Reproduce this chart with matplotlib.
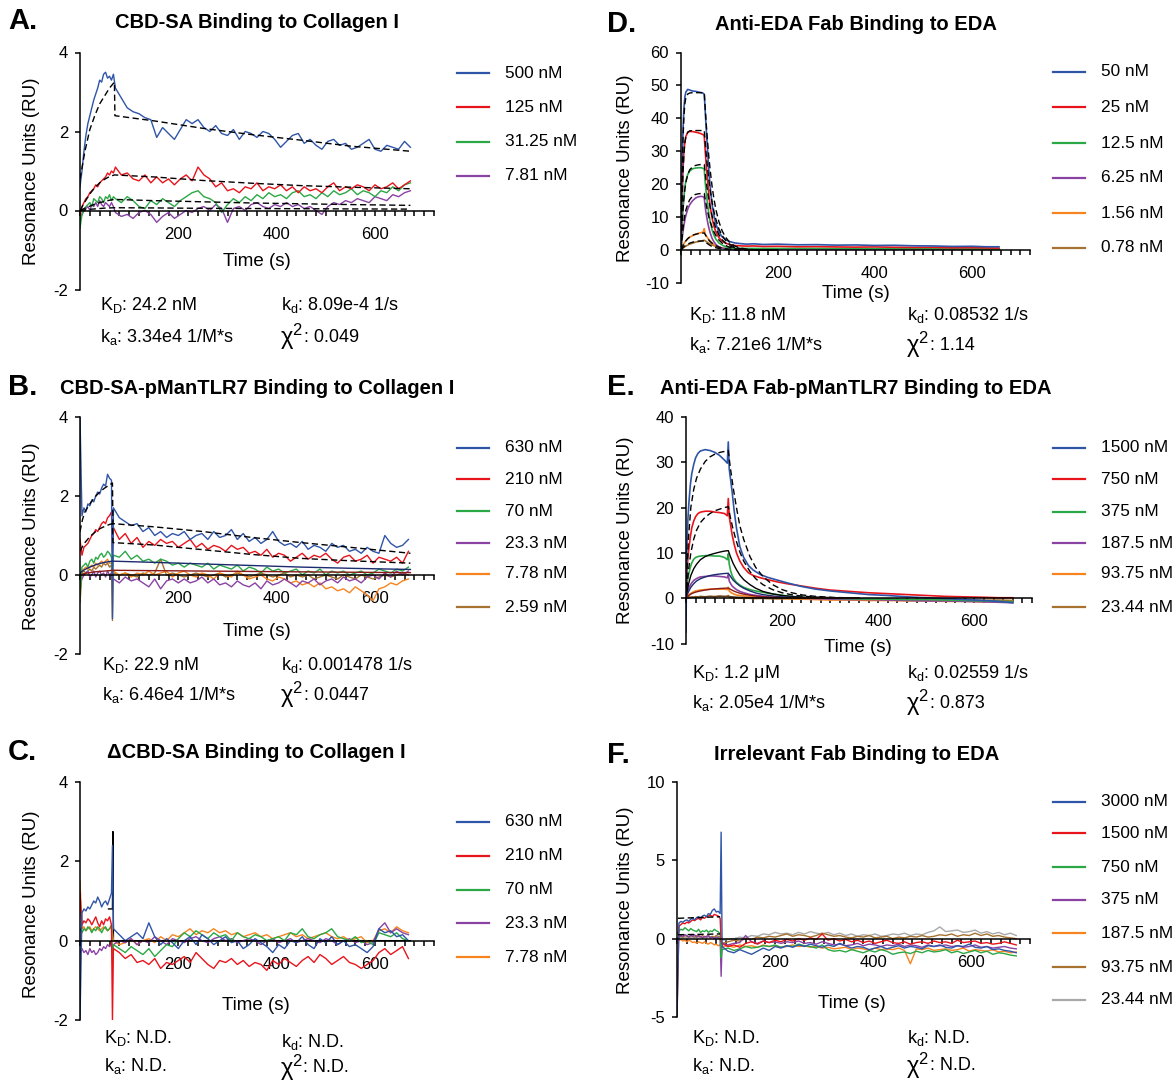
import matplotlib
matplotlib.use("Agg")
import matplotlib.pyplot as plt
import numpy as np

plt.rcParams['font.family'] = ['Liberation Sans', 'DejaVu Sans']
plt.rcParams['mathtext.fontset'] = 'custom'
plt.rcParams['mathtext.rm'] = 'Liberation Sans'
plt.rcParams['mathtext.it'] = 'Liberation Sans:italic'
plt.rcParams['mathtext.bf'] = 'Liberation Sans:bold'
plt.rcParams['axes.unicode_minus'] = False

BLUE = '#2f55a8'
RED = '#e8141c'
GREEN = '#2aa845'
PURPLE = '#8a43a3'
ORANGE = '#f7841f'
BROWN = '#a5722f'
GREY = '#a9a9a9'

# ---------------- panel A: CBD-SA on collagen I ----------------
# association sampled every 4 s from 0, dissociation every 12 s from 72 s
a_labels = ['500 nM', '125 nM', '31.25 nM', '7.81 nM']
a_500_on = [0.6, 1.0, 1.5, 1.9, 2.2, 2.4, 2.6, 2.8, 2.95, 3.1, 3.3, 3.25, 3.45, 3.5, 3.35, 3.4, 3.3, 3.45]
a_500_off = [3.1, 2.85, 2.6, 2.5, 2.45, 2.35, 2.3, 1.85, 2.1, 1.95,
             1.8, 2.05, 2.3, 2.2, 2.3, 2.1, 2.0, 2.15, 1.95, 1.9,
             2.05, 1.8, 2.0, 1.95, 1.85, 2.0, 1.95, 1.8, 1.6, 1.75,
             1.9, 1.95, 1.7, 1.8, 1.65, 1.55, 1.75, 1.8, 1.65, 1.7,
             1.55, 1.6, 1.7, 1.8, 1.55, 1.5, 1.65, 1.6, 1.55, 1.75,
             1.6]
a_125_on = [-0.15, 0.1, 0.2, 0.3, 0.35, 0.45, 0.5, 0.55, 0.65, 0.6, 0.7, 0.75, 0.8, 0.85, 0.95, 0.9, 1.0, 0.95]
a_125_off = [1.1, 0.9, 0.95, 0.8, 0.75, 0.9, 0.7, 0.85, 0.7, 0.8,
             0.65, 0.8, 0.9, 0.75, 1.1, 0.9, 0.8, 0.6, 0.7, 0.5,
             0.55, 0.45, 0.6, 0.55, 0.7, 0.5, 0.6, 0.55, 0.65, 0.5,
             0.6, 0.45, 0.6, 0.5, 0.55, 0.45, 0.6, 0.7, 0.5, 0.6,
             0.55, 0.65, 0.6, 0.5, 0.65, 0.55, 0.6, 0.7, 0.55, 0.65,
             0.75]
a_31_on = [-0.45, -0.1, 0.0, 0.1, 0.15, 0.2, 0.1, 0.3, 0.25, 0.2, 0.35, 0.3, 0.2, 0.35, 0.3, 0.4, 0.25, 0.35]
a_31_off = [0.3, 0.2, 0.35, 0.25, 0.1, 0.05, 0.25, 0.15, 0.3, 0.2,
            0.1, 0.25, 0.35, 0.45, 0.5, 0.35, 0.3, 0.2, -0.05, 0.15,
            0.3, 0.2, 0.35, 0.25, 0.4, 0.3, 0.45, 0.35, 0.4, 0.3,
            0.45, 0.5, 0.35, 0.4, 0.3, 0.45, 0.35, 0.5, 0.4, 0.45,
            0.55, 0.4, 0.5, 0.45, 0.35, 0.5, 0.45, 0.6, 0.5, 0.65,
            0.7]
a_7_on = [-0.25, -0.1, 0.0, 0.05, 0.1, 0.0, 0.15, 0.1, 0.2, 0.1, 0.25, 0.15, 0.1, 0.2, 0.15, 0.1, 0.2, 0.1]
a_7_off = [-0.05, -0.15, -0.1, -0.2, -0.05, 0.0, -0.1, -0.3, -0.15, -0.05,
           -0.2, -0.1, 0.0, -0.05, 0.05, 0.1, 0.0, 0.15, 0.05, -0.3,
           0.05, 0.1, 0.0, 0.15, 0.2, 0.1, 0.05, 0.15, 0.1, 0.2,
           0.1, 0.15, 0.05, 0.1, 0.0, -0.1, 0.1, 0.2, 0.15, 0.25,
           0.2, 0.3, 0.25, 0.2, 0.35, 0.3, 0.25, 0.4, 0.35, 0.45,
           0.5]
a_fit_t = [0, 10, 20, 30, 40, 50, 60, 70, 71, 150, 250, 350, 450, 550, 672]
a_fit_500 = [0.8, 1.5, 2.05, 2.4, 2.7, 2.9, 3.1, 3.25, 2.4, 2.27, 2.08, 1.92, 1.78, 1.63, 1.5]
a_fit_125 = [0.0, 0.22, 0.42, 0.58, 0.7, 0.79, 0.86, 0.9, 0.9, 0.85, 0.76, 0.69, 0.63, 0.59, 0.55]
a_fit_31 = [0.0, 0.06, 0.11, 0.16, 0.2, 0.23, 0.26, 0.28, 0.28, 0.25, 0.22, 0.19, 0.17, 0.15, 0.13]
a_fit_7 = [0.0, 0.015, 0.03, 0.04, 0.05, 0.06, 0.065, 0.07, 0.07, 0.065, 0.055, 0.05, 0.045, 0.04, 0.035]

# ---------------- panel B: CBD-SA-pManTLR7 on collagen I ----------------
# association every 4 s from 0, one point at 66 s, dissociation every 12 s from 68 s
b_labels = ['630 nM', '210 nM', '70 nM', '23.3 nM', '7.78 nM', '2.59 nM']
b_630_on = [4.0, 1.5, 1.7, 1.6, 1.8, 1.75, 1.9, 1.85, 2.0, 2.1, 2.05, 2.2, 2.3, 2.25, 2.55, 2.45, 2.4]
b_630_end = -1.1
b_630_off = [1.7, 1.45, 1.35, 1.25, 1.3, 1.1, 1.2, 1.0, 1.1, 0.95,
             1.05, 1.0, 1.1, 0.9, 1.0, 1.05, 0.9, 1.1, 0.95, 1.0,
             1.15, 0.9, 1.05, 0.85, 0.95, 0.8, 0.9, 1.1, 0.85, 0.75,
             0.8, 0.7, 0.85, 0.65, 0.75, 0.7, 0.6, 0.8, 0.7, 0.75,
             0.6, 0.65, 0.55, 0.7, 0.6, 0.55, 1.0, 0.8, 0.7, 0.75,
             0.9]
b_210_on = [0.9, 0.5, 0.7, 0.75, 0.8, 0.9, 1.0, 1.05, 1.15, 1.1, 1.2, 1.3, 1.35, 1.3, 1.45, 1.5, 1.6]
b_210_end = 0.6
b_210_off = [1.2, 0.9, 1.05, 0.8, 0.95, 0.7, 0.85, 0.75, 0.9, 0.8,
             0.85, 0.7, 0.8, 0.9, 0.7, 0.8, 0.65, 0.75, 0.7, 0.6,
             0.75, 0.65, 0.7, 0.55, 0.6, 0.5, 0.65, 0.45, 0.55, 0.5,
             0.35, 0.45, 0.55, 0.4, 0.5, 0.45, 0.55, 0.4, 0.3, 0.45,
             0.5, 0.35, 0.4, 0.5, 0.3, 0.45, 0.4, 0.35, 0.45, 0.3,
             0.6]
b_70_on = [-0.5, 0.2, 0.25, 0.3, 0.2, 0.35, 0.4, 0.3, 0.45, 0.4, 0.5, 0.55, 0.45, 0.5, 0.6, 0.55, 0.45]
b_70_end = 0.0
b_70_off = [0.5, 0.45, 0.6, 0.4, 0.5, 0.35, 0.4, 0.3, 0.4, 0.35,
            0.25, 0.3, 0.2, 0.3, 0.25, 0.2, 0.3, 0.15, 0.25, 0.2,
            0.15, 0.25, 0.1, 0.2, 0.15, 0.05, 0.2, 0.1, 0.15, 0.05,
            0.1, 0.15, 0.0, 0.1, 0.05, 0.15, 0.0, 0.1, 0.05, 0.1,
            0.0, 0.05, 0.1, 0.0, 0.05, 0.15, 0.1, 0.05, 0.15, 0.1,
            0.2]
b_23_on = [-0.2, -0.1, 0.0, 0.05, 0.1, -0.05, 0.0, 0.1, -0.05, 0.05, 0.1, 0.0, 0.05, -0.05, 0.1, 0.0, 0.05]
b_23_end = -0.1
b_23_off = [-0.1, -0.2, -0.05, -0.15, -0.1, -0.2, -0.3, -0.1, -0.35, -0.15,
            -0.1, -0.2, -0.1, -0.2, -0.15, -0.05, -0.2, -0.1, -0.25, -0.2,
            -0.3, -0.15, -0.25, -0.3, -0.2, -0.35, -0.15, -0.25, -0.2, -0.1,
            -0.2, -0.3, -0.15, -0.2, -0.1, -0.25, -0.15, -0.1, -0.2, -0.05,
            -0.15, -0.1, -0.2, -0.05, 0.0, -0.1, 0.05, -0.05, 0.1, 0.0,
            0.1]
b_7_on = [0.0, 0.1, 0.15, 0.2, 0.15, 0.2, 0.25, 0.2, 0.3, 0.25, 0.3, 0.35, 0.3, 0.35, 0.4, 0.3, 0.3]
b_7_end = 0.0
b_7_off = [0.1, 0.0, 0.05, -0.05, 0.05, 0.0, 0.1, 0.0, 0.05, 0.1,
           -0.05, 0.05, 0.1, 0.0, -0.05, 0.05, 0.0, -0.1, 0.05, 0.0,
           -0.05, 0.1, 0.0, -0.1, -0.05, 0.0, -0.1, -0.15, -0.05, -0.1,
           -0.2, -0.15, -0.25, -0.2, -0.3, -0.2, -0.35, -0.3, -0.4, -0.35,
           -0.45, -0.3, -0.4, -0.5, -0.65, -0.35, -0.3, -0.2, -0.25, -0.15,
           -0.1]
b_2_on = [-0.7, 0.05, 0.1, 0.05, 0.1, 0.15, 0.1, 0.2, 0.15, 0.2, 0.25, 0.2, 0.3, 0.25, 0.3, 0.2, 0.25]
b_2_end = -1.15
b_2_off = [0.05, 0.0, 0.05, 0.0, -0.05, 0.05, 0.0, 0.05, 0.4, 0.0,
           0.05, 0.0, -0.05, 0.0, 0.05, 0.0, -0.05, 0.0, 0.05, -0.05,
           0.0, 0.05, 0.0, -0.05, 0.0, 0.05, 0.0, -0.05, 0.0, 0.05,
           -0.05, 0.0, -0.05, 0.0, -0.1, -0.05, 0.0, -0.05, -0.1, 0.0,
           -0.05, -0.1, 0.0, -0.05, -0.1, -0.05, 0.0, -0.05, 0.0, 0.05,
           0.0]
b_fit_t = [0, 5, 10, 20, 30, 40, 50, 60, 66, 67, 150, 250, 350, 450, 550, 672]
b_fit_630 = [1.1, 1.4, 1.6, 1.8, 1.97, 2.1, 2.2, 2.28, 2.33, 1.3, 1.22, 1.1, 0.95, 0.82, 0.7, 0.55]
b_fit_210 = [0.6, 0.72, 0.82, 0.97, 1.08, 1.17, 1.23, 1.28, 1.3, 0.82, 0.76, 0.64, 0.52, 0.42, 0.36, 0.3]
b_fit_70 = [0.05, 0.1, 0.14, 0.2, 0.25, 0.29, 0.32, 0.34, 0.35, 0.35, 0.32, 0.28, 0.24, 0.2, 0.17, 0.14]
b_fit_23 = [0.0, 0.02, 0.04, 0.06, 0.08, 0.09, 0.1, 0.11, 0.12, 0.12, 0.11, 0.1, 0.09, 0.08, 0.07, 0.06]

# ---------------- panel C: dCBD-SA on collagen I ----------------
c_labels = ['630 nM', '210 nM', '70 nM', '23.3 nM', '7.78 nM']
c_630_on = [-2.0, 0.7, 0.8, 0.75, 0.85, 0.8, 0.9, 1.0, 0.95, 1.1, 1.0, 0.85, 0.95, 1.0, 0.9, 1.05, 1.2]
c_630_end = 2.4
c_630_off = [0.3, 0.15, 0.0, 0.1, 0.2, 0.05, 0.45, 0.1, -0.1, 0.05,
             -0.05, -0.2, 0.0, 0.1, -0.1, 0.15, 0.05, -0.1, 0.0, 0.1,
             -0.05, 0.0, -0.2, -0.1, 0.05, -0.05, -0.15, -0.3, -0.1, -0.2,
             0.0, -0.05, 0.1, -0.1, -0.2, 0.05, -0.05, 0.1, -0.1, 0.0,
             -0.15, -0.1, -0.2, -0.3, -0.15, 0.3, 0.2, 0.25, 0.1, 0.15,
             0.0]
c_210_on = [1.2, 0.4, 0.5, 0.45, 0.55, 0.5, 0.4, 0.5, 0.6, 0.45, 0.35, 0.5, 0.4, 0.55, 0.5, 0.6, 0.4]
c_210_end = -2.0
c_210_off = [-0.2, -0.3, -0.45, -0.35, -0.55, -0.5, -0.6, -0.45, -0.7, -0.55,
             -0.6, -0.5, -0.4, -0.55, -0.3, -0.45, -0.6, -0.7, -0.5, -0.55,
             -0.45, -0.6, -0.5, -0.65, -0.55, -0.6, -0.75, -0.5, -0.6, -0.45,
             -0.55, -0.65, -0.5, -0.4, -0.55, -0.35, -0.45, -0.6, -0.5, -0.4,
             -0.55, -0.6, -0.7, -0.6, -0.5, -0.3, -0.2, -0.35, -0.25, -0.15,
             -0.45]
c_70_on = [0.3, 0.2, 0.3, 0.25, 0.35, 0.3, 0.2, 0.3, 0.25, 0.35, 0.3, 0.2, 0.3, 0.35, 0.25, 0.3, 0.4]
c_70_end = -0.5
c_70_off = [-0.1, -0.2, -0.3, -0.15, -0.25, -0.35, -0.2, -0.4, -0.25, -0.1,
            -0.15, 0.05, 0.2, 0.1, 0.25, 0.15, 0.05, 0.2, 0.1, 0.15,
            0.0, 0.2, 0.1, 0.05, 0.15, 0.1, 0.0, 0.05, 0.1, 0.0,
            0.2, 0.15, 0.3, 0.1, 0.05, 0.15, 0.2, 0.3, 0.1, 0.05,
            0.0, 0.1, -0.05, 0.0, -0.1, 0.2, 0.15, 0.1, 0.2, 0.05,
            0.0]
c_23_on = [-0.3, -0.2, -0.3, -0.25, -0.35, -0.2, -0.3, -0.25, -0.35, -0.3, -0.2, -0.25, -0.15, -0.2, -0.1, -0.15, -0.1]
c_23_end = -0.2
c_23_off = [-0.1, 0.0, -0.05, 0.05, -0.1, 0.0, -0.05, 0.1, 0.0, -0.1,
            0.05, 0.0, -0.05, 0.05, 0.1, 0.0, -0.05, 0.05, 0.1, 0.0,
            0.05, -0.05, 0.0, 0.05, 0.0, -0.1, 0.0, 0.05, -0.05, 0.0,
            0.05, -0.05, 0.0, 0.05, 0.0, -0.05, 0.05, 0.0, -0.1, 0.0,
            0.05, -0.05, 0.0, -0.1, -0.05, 0.3, 0.45, 0.2, 0.3, 0.2,
            0.15]
c_7_on = [1.5, 0.3, 0.35, 0.25, 0.3, 0.35, 0.25, 0.3, 0.35, 0.3, 0.25, 0.3, 0.35, 0.3, 0.25, 0.3, 0.35]
c_7_end = 0.2
c_7_off = [0.0, -0.1, -0.05, 0.05, -0.1, 0.0, 0.05, -0.05, 0.1, 0.0,
           0.15, 0.1, 0.2, 0.3, 0.15, 0.25, 0.2, 0.3, 0.2, 0.25,
           0.15, 0.2, 0.1, 0.15, 0.2, 0.1, 0.15, 0.05, 0.1, 0.15,
           0.2, 0.1, 0.15, 0.05, 0.1, 0.15, 0.2, 0.1, 0.05, 0.1,
           0.0, 0.05, 0.1, -0.05, 0.0, 0.25, 0.3, 0.2, 0.35, 0.25,
           0.2]
c_fit_t = [58, 66, 67, 68, 672]
c_fit = [0.8, 0.8, 2.75, 0.0, 0.0]

# ---------------- panel D: anti-EDA Fab on EDA ----------------
d_labels = ['50 nM', '25 nM', '12.5 nM', '6.25 nM', '1.56 nM', '0.78 nM']
d_t = [0, 2, 4, 6, 8, 10,
       14, 18, 24, 30, 36, 42,
       46, 48, 50, 52, 54, 57,
       60, 64, 68, 72, 78, 85,
       92, 100, 110, 120, 135, 150,
       170, 200, 240, 280, 320, 360,
       400, 440, 480, 520, 560, 600,
       630, 656]
d_50 = [0, 22, 36, 43, 46.5, 48,
        48.8, 48.6, 48.3, 48.2, 48.0, 47.8,
        47.6, 47.3, 42, 37, 32, 25,
        19.5, 14, 10.5, 8, 5.5, 4,
        3.2, 2.6, 2.2, 2.0, 1.8, 1.9,
        1.7, 1.8, 1.6, 1.65, 1.5, 1.55,
        1.4, 1.45, 1.3, 1.25, 1.1, 1.15,
        1.0, 1.0]
d_25 = [0, 14, 24, 30, 33, 34.5,
        35.8, 36, 36, 35.8, 35.6, 35.3,
        35.0, 34.5, 30, 26, 22.5, 17.5,
        13.5, 9.8, 7.2, 5.5, 3.8, 2.7,
        2.1, 1.7, 1.4, 1.3, 1.2, 1.25,
        1.1, 1.15, 1.0, 1.05, 0.95, 0.9,
        0.95, 0.85, 0.8, 0.85, 0.7, 0.75,
        0.65, 0.6]
d_12 = [-1.5, 7, 12, 16, 19, 21,
        23, 24, 24.7, 24.9, 25, 25,
        24.8, 24.5, 20.5, 17.5, 15, 11.5,
        8.8, 6.2, 4.5, 3.3, 2.2, 1.5,
        1.0, 0.7, 0.5, 0.5, 0.5, 0.5,
        0.5, 0.5, 0.5, 0.5, 0.45, 0.45,
        0.4, 0.4, 0.4, 0.35, 0.3, 0.3,
        0.3, 0.3]
d_6 = [0, 3, 5.5, 7.5, 9.2, 10.5,
       12.5, 13.8, 15, 15.8, 16.2, 16.3,
       16.2, 15.8, 13, 11, 9.2, 7,
       5.3, 3.6, 2.5, 1.7, 1.0, 0.6,
       0.4, 0.3, 0.2, 0.2, 0.2, 0.2,
       0.2, 0.2, 0.2, 0.2, 0.2, 0.2,
       0.2, 0.2, 0.2, 0.2, 0.2, 0.2,
       0.2, 0.2]
d_1 = [0, 0.8, 1.5, 2.0, 2.4, 2.8,
       3.4, 3.9, 4.4, 4.8, 5.1, 5.3,
       5.5, 6.5, 4.8, 4.3, 3.9, 3.3,
       2.8, 2.2, 1.7, 1.3, 0.9, 0.6,
       0.4, 0.3, 0.2, 0.2, 0.2, 0.25,
       0.25, 0.3, 0.3, 0.3, 0.3, 0.3,
       0.3, 0.3, 0.3, 0.3, 0.3, 0.3,
       0.3, 0.3]
d_0 = [0, 0.3, 0.6, 0.8, 1.0, 1.2,
       1.5, 1.8, 2.1, 2.4, 2.6, 2.8,
       2.9, 3.0, 2.8, 2.6, 2.4, 2.1,
       1.9, 1.6, 1.35, 1.1, 0.8, 0.55,
       0.4, 0.3, 0.3, 0.3, 0.3, 0.3,
       0.3, 0.3, 0.3, 0.3, 0.3, 0.3,
       0.3, 0.3, 0.3, 0.35, 0.35, 0.4,
       0.4, 0.4]
d_fit_t = [0, 2, 4, 6, 8, 10, 14, 18, 24, 30, 36, 42, 48, 50, 52, 54, 57, 60,
           64, 68, 72, 78, 85, 92, 100, 110, 120, 135, 150, 170, 200]
d_fit_50 = [0, 19, 33, 40.5, 44.5, 46.3, 47.4, 47.7, 47.8, 47.8, 47.8, 47.8, 47.8, 43, 38.5, 34.5, 29, 24.5,
            19.5, 15.5, 12.3, 8.7, 5.8, 3.9, 2.4, 1.3, 0.7, 0.3, 0.12, 0.05, 0.0]
d_fit_25 = [0, 13, 23, 29, 32.5, 34.3, 35.8, 36.2, 36.3, 36.3, 36.3, 36.3, 36.3, 32.5, 29, 26, 21.8, 18.3,
            14.7, 11.7, 9.3, 6.5, 4.4, 2.9, 1.8, 1.0, 0.5, 0.2, 0.1, 0.03, 0.0]
d_fit_12 = [0, 7, 12, 15.8, 18.5, 20.5, 23, 24.4, 25.3, 25.7, 25.9, 26.0, 26.0, 23.3, 20.8, 18.6, 15.6, 13.1,
            10.5, 8.4, 6.6, 4.7, 3.1, 2.1, 1.3, 0.7, 0.4, 0.15, 0.06, 0.02, 0.0]
d_fit_6 = [0, 3.5, 6.5, 8.8, 10.7, 12.1, 14.0, 15.3, 16.4, 16.9, 17.1, 17.2, 17.2, 15.4, 13.8, 12.3, 10.3, 8.7,
           7.0, 5.5, 4.4, 3.1, 2.1, 1.4, 0.85, 0.45, 0.25, 0.1, 0.04, 0.01, 0.0]
d_fit_1 = [0, 0.7, 1.3, 1.9, 2.4, 2.8, 3.5, 4.0, 4.5, 4.8, 5.0, 5.1, 5.2, 4.7, 4.2, 3.7, 3.1, 2.6,
           2.1, 1.7, 1.3, 0.9, 0.6, 0.4, 0.25, 0.14, 0.07, 0.03, 0.01, 0.0, 0.0]
d_fit_0 = [0, 0.35, 0.7, 1.0, 1.25, 1.5, 1.85, 2.1, 2.4, 2.6, 2.7, 2.75, 2.8, 2.5, 2.25, 2.0, 1.7, 1.4,
           1.1, 0.9, 0.7, 0.5, 0.33, 0.22, 0.13, 0.07, 0.04, 0.015, 0.005, 0.0, 0.0]

# ---------------- panel E: anti-EDA Fab-pManTLR7 on EDA ----------------
e_labels = ['1500 nM', '750 nM', '375 nM', '187.5 nM', '93.75 nM', '23.44 nM']
e_t = [0, 1, 2, 4, 6, 9,
       12, 16, 20, 25, 30, 40,
       50, 60, 70, 80, 86, 88,
       90, 93, 96, 100, 105, 112,
       120, 130, 140, 155, 170, 190,
       210, 240, 270, 300, 340, 380,
       420, 460, 500, 540, 580, 620,
       650, 680]
e_1500 = [-7.5, 6, 12, 17.5, 21, 25,
          27.5, 29.5, 31, 32, 32.5, 32.8,
          32.6, 32.2, 31.5, 30.5, 29.8, 34.5,
          28.5, 26, 23.5, 19.5, 15.5, 11.4,
          9, 7.2, 6.2, 5.2, 4.6, 4.0,
          3.4, 2.6, 2.0, 1.6, 1.2, 0.8,
          0.6, 0.3, 0.1, -0.1, -0.3, -0.5,
          -0.7, -1.0]
e_750 = [-2, 3, 6, 9, 11, 13.5,
         15.5, 17, 18, 18.7, 19, 19.2,
         19.2, 19.0, 18.9, 18.7, 18.2, 22,
         18, 16, 14, 12, 10, 8.2,
         6.8, 5.6, 5.0, 4.5, 4.1, 3.6,
         3.2, 2.7, 2.2, 1.8, 1.5, 1.2,
         1.0, 0.8, 0.6, 0.4, 0.3, 0.2,
         0.1, 0.1]
e_375 = [0, 1.5, 3, 4.5, 5.5, 6.8,
         7.8, 8.6, 9.0, 9.2, 9.3, 9.4,
         9.4, 9.3, 9.3, 9.0, 8.5, 9.8,
         7.5, 6.0, 5.0, 4.2, 3.5, 2.9,
         2.4, 2.0, 1.7, 1.4, 1.1, 0.8,
         0.5, 0.2, 0.1, 0.0, -0.1, -0.2,
         -0.2, -0.3, -0.3, -0.4, -0.5, -0.6,
         -0.7, -0.8]
e_187 = [0, 0.6, 1.2, 1.8, 2.3, 2.9,
         3.4, 3.9, 4.2, 4.5, 4.7, 4.8,
         4.9, 4.9, 4.8, 4.7, 4.5, 5.2,
         3.8, 3.2, 2.7, 2.3, 1.9, 1.5,
         1.2, 0.9, 0.7, 0.5, 0.3, 0.2,
         0.1, 0.0, -0.1, -0.2, -0.3, -0.3,
         -0.4, -0.5, -0.6, -0.6, -0.7, -0.8,
         -0.9, -1.0]
e_93 = [0, 0.2, 0.4, 0.6, 0.8, 1.0,
        1.2, 1.4, 1.6, 1.7, 1.8, 1.9,
        2.0, 2.0, 2.0, 2.0, 1.9, 2.4,
        1.6, 1.3, 1.1, 0.9, 0.7, 0.6,
        0.5, 0.4, 0.3, 0.2, 0.1, 0.0,
        -0.1, -0.2, -0.3, -0.4, -0.4, -0.5,
        -0.5, -0.6, -0.6, -0.7, -0.7, -0.8,
        -0.8, -0.9]
e_23 = [0, 0.1, 0.2, 0.1, 0.3, 0.2,
        0.3, 0.2, 0.35, 0.25, 0.4, 0.3,
        0.45, 0.3, 0.5, 0.35, 0.4, 0.6,
        0.2, 0.1, 0.1, 0.0, 0.05, 0.0,
        -0.05, 0.0, -0.1, -0.05, -0.1, -0.15,
        -0.1, -0.2, -0.15, -0.25, -0.2, -0.3,
        -0.25, -0.35, -0.3, -0.4, -0.35, -0.45,
        -0.4, -0.5]
e_fit_t = [0, 2, 5, 10, 16, 22, 30, 40, 50, 60, 71, 80, 88, 92,
           98, 105, 112, 120, 133, 145, 160, 180, 200, 220, 243, 270, 311, 360]
e_fit_1500 = [0, 6, 13, 20, 24, 26.5, 28.5, 30.2, 31.2, 31.8, 32.2, 32.4, 32.6, 29,
              24.5, 20, 16, 13, 9.2, 6.8, 4.8, 3.0, 1.9, 1.2, 0.7, 0.4, 0.15, 0.05]
e_fit_750 = [0, 2.5, 6, 10, 13, 15, 16.7, 17.9, 18.7, 19.3, 19.7, 20.0, 20.2, 18,
             15.2, 12.5, 10.2, 8.2, 5.9, 4.3, 3.0, 1.9, 1.2, 0.75, 0.45, 0.25, 0.1, 0.03]
e_fit_375 = [0, 1.3, 3, 5, 6.5, 7.5, 8.5, 9.2, 9.6, 9.9, 10.2, 10.4, 10.5, 9.3,
             7.7, 6.3, 5.1, 4.1, 3.0, 2.2, 1.5, 0.95, 0.6, 0.37, 0.22, 0.12, 0.05, 0.01]
e_fit_187 = [0, 0.6, 1.4, 2.4, 3.2, 3.8, 4.3, 4.7, 5.0, 5.2, 5.35, 5.45, 5.5, 4.9,
             4.0, 3.3, 2.7, 2.2, 1.6, 1.15, 0.8, 0.5, 0.3, 0.19, 0.11, 0.06, 0.02, 0.0]
e_fit_93 = [0, 0.2, 0.5, 0.9, 1.2, 1.4, 1.6, 1.8, 1.95, 2.05, 2.15, 2.2, 2.25, 2.0,
            1.65, 1.35, 1.1, 0.9, 0.65, 0.47, 0.32, 0.2, 0.12, 0.07, 0.04, 0.02, 0.0, 0.0]
e_fit_23 = [0, 0.03, 0.08, 0.15, 0.2, 0.25, 0.28, 0.32, 0.35, 0.37, 0.39, 0.4, 0.4, 0.36,
            0.3, 0.24, 0.2, 0.16, 0.12, 0.08, 0.06, 0.04, 0.02, 0.01, 0.0, 0.0, 0.0, 0.0]

# ---------------- panel F: irrelevant Fab on EDA ----------------
# association every 4 s from 0 to 88, one point at 90 s, dissociation every 12 s from 92 s
f_labels = ['3000 nM', '1500 nM', '750 nM', '375 nM', '187.5 nM', '93.75 nM', '23.44 nM']
f_3000_on = [-5.0, 1.0, 1.1, 1.05, 1.15, 1.2, 1.1, 1.25, 1.3, 1.2, 1.35, 1.4, 1.3, 1.45, 1.5, 1.4,
             1.6, 1.55, 1.8, 1.9, 1.7, 1.75, 1.6]
f_3000_end = 6.8
f_3000_off = [-0.5, -0.8, -0.9, -0.7, -0.85, -1.0, -0.8, -0.6, -0.75, -0.5,
              -0.6, -0.45, -0.55, -0.4, -0.5, -0.35, -0.45, -0.55, -0.4, -0.5,
              -0.3, -0.45, -0.6, -0.5, -0.55, -0.7, -0.6, -0.5, -0.65, -0.55,
              -0.45, -0.6, -0.5, -0.55, -0.65, -0.45, -0.5, -0.4, -0.55, -0.6,
              -0.45, -0.5, -0.35, -0.55, -0.6, -0.5, -0.7, -0.65, -0.75, -0.8,
              -0.9]
f_1500_on = [-5.0, 0.8, 0.9, 1.0, 0.95, 1.05, 1.0, 1.1, 1.2, 1.15, 1.25, 1.3, 1.2, 1.35, 1.3, 1.4,
             1.45, 1.5, 1.4, 1.55, 1.5, 1.45, 1.3]
f_1500_end = -0.2
f_1500_off = [-0.3, -0.5, -0.4, -0.55, -0.3, -0.2, -0.35, -0.15, -0.25, -0.1,
              -0.2, -0.05, -0.15, 0.0, -0.1, 0.05, -0.05, 0.3, -0.1, 0.0,
              -0.15, -0.05, -0.2, -0.1, -0.25, -0.15, -0.3, -0.2, -0.1, -0.25,
              -0.3, -0.2, -0.35, -0.25, -0.2, -0.3, -0.15, -0.25, -0.2, -0.3,
              -0.1, -0.25, -0.2, -0.15, -0.3, -0.25, -0.35, -0.3, -0.2, -0.3,
              -0.4]
f_750_on = [0.3, 0.5, 0.6, 0.55, 0.7, 0.6, 0.5, 0.65, 0.55, 0.5, 0.45, 0.6, 0.4, 0.5, 0.45, 0.55,
            0.4, 0.5, 0.45, 0.6, 0.5, 0.45, 0.3]
f_750_end = -1.2
f_750_off = [-0.7, -0.6, -0.75, -0.65, -0.5, -0.6, -0.55, -0.45, -0.5, -0.4,
             -0.55, -0.45, -0.5, -0.35, -0.45, -0.5, -0.6, -0.4, -0.7, -0.8,
             -0.75, -0.85, -0.7, -0.8, -0.9, -0.75, -0.85, -0.7, -0.8, -1.0,
             -0.9, -0.85, -0.95, -0.8, -0.9, -0.75, -0.85, -0.8, -0.7, -0.9,
             -0.8, -0.95, -0.85, -0.75, -0.9, -0.8, -1.0, -0.9, -0.95, -1.05,
             -1.1]
f_375_on = [-0.2, 0.1, 0.2, 0.15, 0.25, 0.2, 0.1, 0.2, 0.15, 0.25, 0.1, 0.2, 0.15, 0.05, 0.15, 0.1,
            0.2, 0.05, 0.1, 0.0, 0.1, 0.05, 0.0]
f_375_end = -2.4
f_375_off = [-0.3, -0.4, -0.3, -0.25, 0.2, -0.2, -0.3, -0.15, -0.25, -0.2,
             -0.3, -0.2, -0.25, -0.15, -0.3, -0.25, -0.35, -0.2, -0.3, -0.4,
             -0.35, -0.45, -0.4, -0.3, -0.45, -0.35, -0.4, -0.5, -0.4, -0.45,
             -0.35, -0.5, -0.4, -0.45, -0.55, -0.4, -0.5, -0.45, -0.4, -0.5,
             -0.45, -0.55, -0.5, -0.4, -0.55, -0.5, -0.6, -0.55, -0.5, -0.6,
             -0.65]
f_187_on = [-0.3, -0.1, -0.05, -0.15, -0.1, -0.2, -0.1, -0.15, -0.25, -0.2, -0.3, -0.2, -0.25, -0.3,
            -0.2, -0.3, -0.35, -0.25, -0.3, -0.4, -0.35, -0.45, -0.4]
f_187_end = -0.6
f_187_off = [-0.5, -0.45, -0.55, -0.4, -0.5, -0.45, -0.55, -0.4, -0.5, -0.45,
             -0.55, -0.5, -0.4, -0.5, -0.45, -0.55, -0.5, -0.6, -0.55, -0.65,
             -0.6, -0.55, -0.7, -0.6, -0.65, -0.75, -0.6, -0.7, -0.65, -0.7,
             -0.6, -0.75, -1.6, -0.65, -0.7, -0.6, -0.75, -0.7, -0.65, -0.75,
             -0.7, -0.6, -0.8, -0.7, -0.75, -0.8, -0.7, -0.85, -0.8, -0.9,
             -0.85]
f_93_on = [0.0, 0.1, 0.15, 0.1, 0.2, 0.15, 0.1, 0.2, 0.15, 0.1, 0.2, 0.15, 0.1, 0.2, 0.1, 0.15,
           0.2, 0.1, 0.15, 0.1, 0.2, 0.15, 0.1]
f_93_end = -0.3
f_93_off = [-0.3, -0.2, -0.1, -0.15, 0.0, -0.05, 0.1, 0.05, 0.15, 0.1,
            0.2, 0.3, 0.15, 0.25, 0.2, 0.1, 0.2, 0.35, 0.25, 0.15,
            0.2, 0.1, 0.05, 0.15, 0.1, 0.2, 0.05, 0.1, 0.15, 0.0,
            0.1, 0.05, 0.15, 0.1, 0.2, 0.1, 0.15, 0.25, 0.2, 0.3,
            0.15, 0.25, 0.2, 0.35, 0.2, 0.3, 0.15, 0.2, 0.1, 0.05,
            0.0]
f_23_on = [0.0, 0.05, 0.1, 0.05, 0.1, 0.05, 0.1, 0.05, 0.1, 0.05, 0.1, 0.05, 0.1, 0.05, 0.1, 0.05,
           0.1, 0.05, 0.1, 0.05, 0.1, 0.05, 0.05]
f_23_end = -0.1
f_23_off = [-0.1, -0.05, 0.0, 0.1, 0.05, 0.2, 0.15, 0.3, 0.25, 0.4,
            0.3, 0.35, 0.25, 0.4, 0.3, 0.45, 0.35, 0.3, 0.4, 0.25,
            0.35, 0.2, 0.3, 0.15, 0.25, 0.2, 0.3, 0.15, 0.2, 0.3,
            0.25, 0.35, 0.2, 0.3, 0.25, 0.4, 0.5, 0.75, 0.45, 0.5,
            0.55, 0.4, 0.45, 0.55, 0.35, 0.45, 0.3, 0.4, 0.25, 0.35,
            0.2]
f_fit_t = [2, 88]
f_fit_hi = [1.3, 1.4]
f_fit_lo = [0.25, 0.3]


def trace(on, end, off, t_end, t_off, step_on=4, step_off=12):
    t = [i * step_on for i in range(len(on))]
    v = list(on)
    if end is not None:
        t.append(t_end)
        v.append(end)
    t += [t_off + i * step_off for i in range(len(off))]
    v += list(off)
    return t, v


W, H = 1175, 1084
fig = plt.figure(figsize=(W / 100, H / 100), dpi=100)


def fx(x):
    return x / W


def fy(y):
    return 1 - y / H


def make_ax(left, right, top, bottom, ylim, yticks):
    ax = fig.add_axes([fx(left), fy(bottom), (right - left) / W, (bottom - top) / H])
    ax.patch.set_alpha(0)
    ax.set_xlim(0, 720)
    ax.set_ylim(*ylim)
    for s in ['top', 'right']:
        ax.spines[s].set_visible(False)
    ax.spines['bottom'].set_position(('data', 0))
    for s in ['left', 'bottom']:
        ax.spines[s].set_linewidth(1.1)
        ax.spines[s].set_zorder(5)
    ax.set_xticks([200, 400, 600])
    ax.set_xticks(np.arange(0, 721, 20), minor=True)
    ax.set_yticks(yticks)
    ax.tick_params(axis='both', which='both', direction='out', length=3.6, width=1.1,
                   labelsize=12)
    ax.tick_params(axis='x', pad=8)
    ax.tick_params(axis='y', pad=5)
    return ax


def plot_series(ax, t, v, color, lw=1.0, ls='-', z=2):
    n = min(len(t), len(v))
    ax.plot(t[:n], v[:n], color=color, lw=lw, ls=ls, zorder=z, solid_joinstyle='round')


def legend(x0, rows, labels, colors):
    for y, lab, c in zip(rows, labels, colors):
        fig.add_artist(plt.Line2D([fx(x0), fx(x0 + 32)], [fy(y), fy(y)], color=c, lw=1.6))
        fig.text(fx(x0 + 48), fy(y), lab, fontsize=12.4, va='center', ha='left')


def stats(xl, xr, y1, y2, kd_big, ka, kd, chi, xchi_text, y1r=None, y2r=None):
    y1r = y1 if y1r is None else y1r
    y2r = y2 if y2r is None else y2r
    fig.text(fx(xl), fy(y1), r'K$_\mathregular{D}$: ' + kd_big, fontsize=13, va='center')
    fig.text(fx(xl), fy(y2), r'k$_\mathregular{a}$: ' + ka, fontsize=13, va='center')
    fig.text(fx(xr), fy(y1r), r'k$_\mathregular{d}$: ' + kd, fontsize=13, va='center')
    fig.text(fx(xr - 1), fy(y2r), r'$\mathregular{\chi^{2}}$', fontsize=17, va='center')
    fig.text(fx(xchi_text), fy(y2r), ': ' + chi, fontsize=13, va='center')


def headers(letter, lx, ly, title, tx, ty, xlab_x, xlab_y, ylab_x, ylab_y):
    fig.text(fx(lx), fy(ly), letter, fontsize=21, fontweight='bold', va='center', ha='left')
    fig.text(fx(tx), fy(ty), title, fontsize=14.5, fontweight='bold', va='center', ha='center')
    fig.text(fx(xlab_x), fy(xlab_y), 'Time (s)', fontsize=13.5, va='center', ha='center')
    fig.text(fx(ylab_x), fy(ylab_y), 'Resonance Units (RU)', fontsize=13.5, va='center',
             ha='center', rotation=90)


dash = (0, (4.5, 2.5))

# ---------- A ----------
axA = make_ax(80, 434, 52.5, 289.5, (-2, 4), [-2, 0, 2, 4])
a_cols = [BLUE, RED, GREEN, PURPLE]
a_data = [(a_500_on, a_500_off), (a_125_on, a_125_off), (a_31_on, a_31_off), (a_7_on, a_7_off)]
for (on, off), c in reversed(list(zip(a_data, a_cols))):
    t, v = trace(on, None, off, None, 72)
    plot_series(axA, t, v, c)
for fv in [a_fit_500, a_fit_125, a_fit_31, a_fit_7]:
    plot_series(axA, a_fit_t, fv, 'black', lw=1.0, ls=dash, z=3)
headers('A.', 8, 21, 'CBD-SA Binding to Collagen I', 257, 23, 257, 262, 32, 171)
legend(457, [73, 107, 142, 176], a_labels, a_cols)
stats(100, 281, 305, 337, '24.2 nM', '3.34e4 1/M*s', '8.09e-4 1/s', '0.049', 304)

# ---------- B ----------
axB = make_ax(80, 434, 417, 654, (-2, 4), [-2, 0, 2, 4])
b_cols = [BLUE, RED, GREEN, PURPLE, ORANGE, BROWN]
b_data = [(b_630_on, b_630_end, b_630_off), (b_210_on, b_210_end, b_210_off),
          (b_70_on, b_70_end, b_70_off), (b_23_on, b_23_end, b_23_off),
          (b_7_on, b_7_end, b_7_off), (b_2_on, b_2_end, b_2_off)]
for (on, e, off), c in reversed(list(zip(b_data, b_cols))):
    t, v = trace(on, e, off, 66, 68)
    plot_series(axB, t, v, c)
plot_series(axB, b_fit_t, b_fit_630, 'black', ls=dash, z=3)
plot_series(axB, b_fit_t, b_fit_210, 'black', ls=dash, z=3)
plot_series(axB, b_fit_t, b_fit_70, '#1c2a6e', z=3)
plot_series(axB, b_fit_t, b_fit_23, '#8a1a1a', z=3)
headers('B.', 8, 387, 'CBD-SA-pManTLR7 Binding to Collagen I', 257, 388, 257, 632, 32, 536)
legend(457, [448, 479, 511, 543, 574, 607], b_labels, b_cols)
stats(102, 281, 665, 695, '22.9 nM', '6.46e4 1/M*s', '0.001478 1/s', '0.0447', 304)

# ---------- C ----------
axC = make_ax(80, 434, 782, 1020, (-2, 4), [-2, 0, 2, 4])
c_cols = [BLUE, RED, GREEN, PURPLE, ORANGE]
c_data = [(c_630_on, c_630_end, c_630_off), (c_210_on, c_210_end, c_210_off),
          (c_70_on, c_70_end, c_70_off), (c_23_on, c_23_end, c_23_off),
          (c_7_on, c_7_end, c_7_off)]
plot_series(axC, c_fit_t, c_fit, 'black', z=1.5)
for (on, e, off), c in reversed(list(zip(c_data, c_cols))):
    t, v = trace(on, e, off, 66, 68)
    plot_series(axC, t, v, c)
headers('C.', 8, 752, '\u0394CBD-SA Binding to Collagen I', 256, 753, 256, 1005, 32, 904)
legend(457, [822, 856, 890, 923, 957], c_labels, c_cols)
stats(104, 281, 1038, 1066, 'N.D.', 'N.D.', 'N.D.', 'N.D.', 303, 1042, 1068)

# ---------- D ----------
axD = make_ax(681, 1030, 52.5, 283, (-10, 60), [-10, 0, 10, 20, 30, 40, 50, 60])
d_cols = [BLUE, RED, GREEN, PURPLE, ORANGE, BROWN]
d_vals = [d_50, d_25, d_12, d_6, d_1, d_0]
for v, c in reversed(list(zip(d_vals, d_cols))):
    plot_series(axD, d_t, v, c, lw=1.2)
for fv in [d_fit_50, d_fit_25, d_fit_12, d_fit_6, d_fit_1, d_fit_0]:
    plot_series(axD, d_fit_t, fv, 'black', ls=dash, z=3)
headers('D.', 607, 24, 'Anti-EDA Fab Binding to EDA', 856, 24, 856, 293, 626, 168)
legend(1053, [72, 107, 143, 178, 213, 248], d_labels, d_cols)
stats(689, 907, 315, 345, '11.8 nM', '7.21e6 1/M*s', '0.08532 1/s', '1.14', 930)

# ---------- E ----------
axE = make_ax(686, 1032, 417, 643.5, (-10, 40), [-10, 0, 10, 20, 30, 40])
e_cols = [BLUE, RED, GREEN, PURPLE, ORANGE, BROWN]
e_vals = [e_1500, e_750, e_375, e_187, e_93, e_23]
for v, c in reversed(list(zip(e_vals, e_cols))):
    plot_series(axE, e_t, v, c, lw=1.2)
plot_series(axE, e_fit_t, e_fit_1500, 'black', ls=dash, z=3)
plot_series(axE, e_fit_t, e_fit_750, 'black', ls=dash, z=3)
plot_series(axE, e_fit_t, e_fit_375, 'black', z=3)
plot_series(axE, e_fit_t, e_fit_187, '#1c2a6e', z=3)
plot_series(axE, e_fit_t, e_fit_93, '#8a1a1a', z=3)
plot_series(axE, e_fit_t, e_fit_23, '#5a3a1a', z=3)
headers('E.', 607, 387, 'Anti-EDA Fab-pManTLR7 Binding to EDA', 856, 388, 858, 647, 626, 530)
legend(1053, [448, 479, 512, 543, 574, 607], e_labels, e_cols)
stats(692, 907, 673, 703, '1.2 \u03bcM', '2.05e4 1/M*s', '0.02559 1/s', '0.873', 930)

# ---------- F ----------
axF = make_ax(677, 1030, 782, 1017, (-5, 10), [-5, 0, 5, 10])
f_cols = [BLUE, RED, GREEN, PURPLE, ORANGE, BROWN, GREY]
f_data = [(f_3000_on, f_3000_end, f_3000_off), (f_1500_on, f_1500_end, f_1500_off),
          (f_750_on, f_750_end, f_750_off), (f_375_on, f_375_end, f_375_off),
          (f_187_on, f_187_end, f_187_off), (f_93_on, f_93_end, f_93_off),
          (f_23_on, f_23_end, f_23_off)]
for (on, e, off), c in reversed(list(zip(f_data, f_cols))):
    t, v = trace(on, e, off, 90, 92)
    plot_series(axF, t, v, c)
plot_series(axF, f_fit_t, f_fit_hi, 'black', ls=dash, z=3)
plot_series(axF, f_fit_t, f_fit_lo, 'black', ls=dash, z=3)
headers('F.', 607, 755, 'Irrelevant Fab Binding to EDA', 857, 755, 852, 1003, 626, 900)
legend(1053, [802, 833, 867, 900, 933, 967, 1000], f_labels, f_cols)
stats(692, 907, 1038, 1066, 'N.D.', 'N.D.', 'N.D.', 'N.D.', 930)

fig.savefig('out.png', dpi=100)
